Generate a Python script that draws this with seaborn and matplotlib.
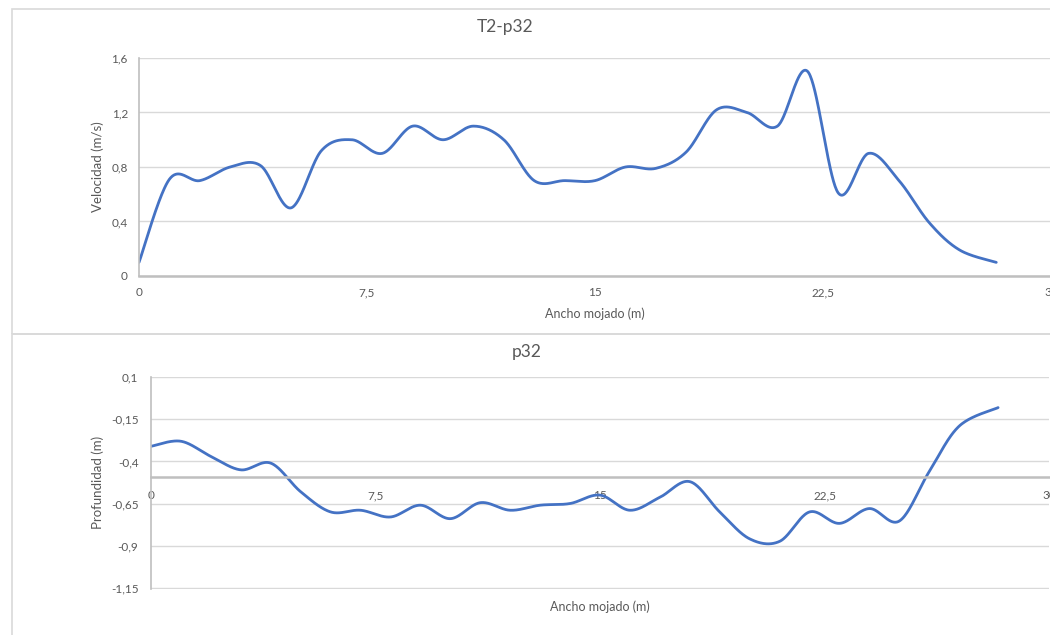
import numpy as np
import pandas as pd
import matplotlib
matplotlib.use("Agg")
import matplotlib.pyplot as plt
from matplotlib.patches import Rectangle
from matplotlib.ticker import FixedLocator, FuncFormatter
import seaborn as sns

# Velocity profile along the wetted width (m, m/s)
vel_x = [0, 1, 2, 3, 4, 5, 6, 7, 8, 9, 10, 11, 12, 13, 14, 15, 16, 17, 18, 19,
         20, 21, 22, 23, 24, 25, 26, 27, 28.2]
vel_y = [0.10, 0.71, 0.70, 0.80, 0.81, 0.50, 0.92, 1.00, 0.90, 1.10, 1.00, 1.10,
         1.00, 0.70, 0.70, 0.70, 0.80, 0.79, 0.91, 1.22, 1.20, 1.10, 1.50, 0.61,
         0.90, 0.70, 0.39, 0.19, 0.10]

# Depth profile along the wetted width (m, m)
dep_x = [0, 1, 2, 3, 4, 5, 6, 7, 8, 9, 10, 11, 12, 13, 14, 15, 16, 17, 18, 19,
         20, 21, 22, 23, 24, 25, 26, 27, 28.3]
dep_y = [-0.31, -0.28, -0.37, -0.45, -0.41, -0.58, -0.70, -0.69, -0.73, -0.66,
         -0.74, -0.645, -0.69, -0.66, -0.65, -0.60, -0.69, -0.613, -0.52, -0.70,
         -0.86, -0.875, -0.70, -0.768, -0.68, -0.754, -0.46, -0.19, -0.08]

x_ticks = [0, 7.5, 15, 22.5, 30]
vel_ticks = [0, 0.4, 0.8, 1.2, 1.6]
dep_ticks = [0.1, -0.15, -0.4, -0.65, -0.9, -1.15]

LINE = "#4472C4"
GRID = "#D9D9D9"
AXIS = "#BFBFBF"
TEXT = "#595959"

sns.set_theme(style="white")
plt.rcParams["font.family"] = ["Lato", "DejaVu Sans"]


def smooth(xs, ys, n=40):
    """Bezier smoothing through the points (spreadsheet-style smoothed line)."""
    p = np.column_stack([xs, ys]).astype(float)
    ext = np.vstack([p[0], p, p[-1]])
    out = []
    t = np.linspace(0, 1, n)[:, None]
    for i in range(len(p) - 1):
        p0, p1, p2, p3 = ext[i], ext[i + 1], ext[i + 2], ext[i + 3]
        c1 = p1 + (p2 - p0) / 6.0
        c2 = p2 - (p3 - p1) / 6.0
        seg = ((1 - t) ** 3) * p1 + 3 * ((1 - t) ** 2) * t * c1 \
            + 3 * (1 - t) * t ** 2 * c2 + t ** 3 * p2
        out.append(seg if i == 0 else seg[1:])
    c = np.vstack(out)
    return pd.DataFrame({"x": c[:, 0], "y": c[:, 1]})


def comma(v, _pos):
    s = f"{v:g}"
    return s.replace(".", ",")


fig = plt.figure(figsize=(10.5, 6.35), dpi=100)
W, H = 1050, 635


def fx(px):
    return px / W


def fy(py):
    return 1 - py / H


# chart frames
fig.patches.append(Rectangle((fx(12), fy(334)), 1.2, fy(9) - fy(334),
                             transform=fig.transFigure, fill=False,
                             edgecolor=GRID, lw=1.2))
fig.patches.append(Rectangle((fx(12), fy(700)), 1.2, fy(334) - fy(700),
                             transform=fig.transFigure, fill=False,
                             edgecolor=GRID, lw=1.2))

# ---- velocity chart ----
ax1 = fig.add_axes([fx(139), fy(276), fx(1051) - fx(139), fy(58) - fy(276)])
sns.lineplot(data=smooth(vel_x, vel_y), x="x", y="y", sort=False,
             estimator=None, color=LINE, lw=2.0, ax=ax1)
ax1.set_xlim(0, 30)
ax1.set_ylim(0, 1.6)
ax1.xaxis.set_major_locator(FixedLocator(x_ticks))
ax1.yaxis.set_major_locator(FixedLocator(vel_ticks))

# ---- depth chart ----
ax2 = fig.add_axes([fx(151), fy(588.5), fx(1049) - fx(151), fy(377.3) - fy(588.5)])
sns.lineplot(data=smooth(dep_x, dep_y), x="x", y="y", sort=False,
             estimator=None, color=LINE, lw=2.0, ax=ax2)
ax2.set_xlim(0, 30)
ax2.set_ylim(-1.155, 0.1)
ax2.xaxis.set_major_locator(FixedLocator(x_ticks))
ax2.yaxis.set_major_locator(FixedLocator(dep_ticks))
ax2.spines["bottom"].set_position(("data", -0.49))

for ax in (ax1, ax2):
    ax.set_facecolor("none")
    ax.set_xlabel("")
    ax.set_ylabel("")
    ax.grid(True, axis="y", color=GRID, lw=1.0)
    ax.grid(False, axis="x")
    ax.set_axisbelow(True)
    for side in ("top", "right"):
        ax.spines[side].set_visible(False)
    ax.spines["left"].set_color(AXIS)
    ax.spines["left"].set_linewidth(1.2)
    ax.spines["bottom"].set_color(AXIS)
    ax.spines["bottom"].set_linewidth(1.8)
    ax.xaxis.set_major_formatter(FuncFormatter(comma))
    ax.yaxis.set_major_formatter(FuncFormatter(comma))
    ax.tick_params(axis="both", length=0, labelsize=8.5, labelcolor=TEXT)
    ax.tick_params(axis="y", pad=8)
    ax.tick_params(axis="x", pad=8)
    for lab in ax.get_xticklabels() + ax.get_yticklabels():
        lab.set_clip_on(False)

ax2.tick_params(axis="x", pad=10)
ax2.tick_params(axis="y", pad=9)

# titles and axis labels
fig.text(fx(505), fy(27), "T2-p32", ha="center", va="center", fontsize=12.5, color=TEXT)
fig.text(fx(527), fy(352), "p32", ha="center", va="center", fontsize=12.5, color=TEXT)
fig.text(fx(595), fy(314), "Ancho mojado (m)", ha="center", va="center", fontsize=9, color=TEXT)
fig.text(fx(600), fy(607), "Ancho mojado (m)", ha="center", va="center", fontsize=9, color=TEXT)
fig.text(fx(98), fy(167), "Velocidad (m/s)", ha="center", va="center", rotation=90,
         fontsize=9.5, color=TEXT)
fig.text(fx(98), fy(482), "Profundidad (m)", ha="center", va="center", rotation=90,
         fontsize=9.5, color=TEXT)

fig.savefig("out.png", dpi=100, facecolor="white")
